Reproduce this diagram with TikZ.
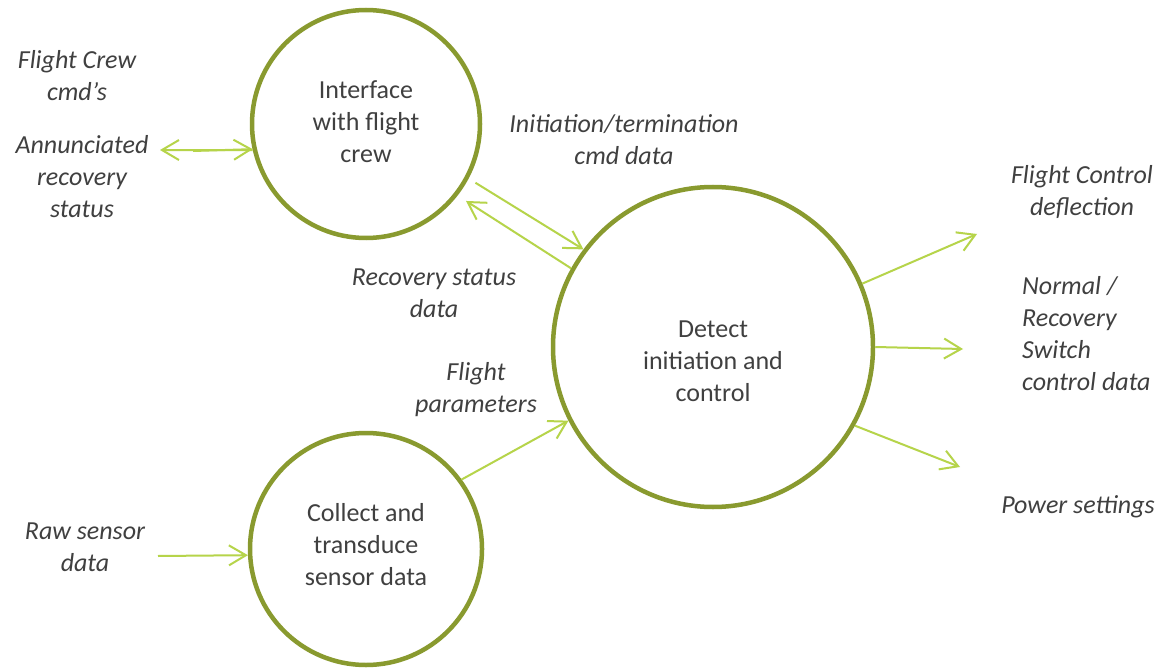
\documentclass[tikz,border=0pt]{standalone}
\usepackage{fontspec}
\setmainfont{Carlito}
\usetikzlibrary{arrows.meta}
\definecolor{ring}{RGB}{137,154,47}
\definecolor{flow}{RGB}{182,212,74}
\definecolor{ink}{RGB}{64,64,64}

\begin{document}
\begin{tikzpicture}[x=1pt,y=-1pt,
  process/.style={circle, draw=ring, line width=4.5pt, inner sep=0pt},
  proctext/.style={text=ink, align=center, inner sep=0pt,
    font=\fontsize{26}{32}\selectfont},
  flowlabel/.style={text=ink, align=center, inner sep=0pt,
    font=\fontsize{26}{32}\selectfont\itshape},
  flowarrow/.style={draw=flow, line width=2pt,
    -{Straight Barb[length=17pt,width=20pt,line width=2pt]}}]

\useasboundingbox[fill=white] (0,0) rectangle (1164,668);

% processes
\node[process, minimum size=228pt,
  label={[proctext, yshift=2pt]center:{Interface\\with flight\\crew}}] (crew) at (366,124) {};
\node[process, minimum size=320pt,
  label={[proctext, yshift=-14pt]center:{Detect\\initiation and\\control}}] (detect) at (713,347) {};
\node[process, minimum size=232pt,
  label={[proctext, yshift=4pt]center:{Collect and\\transduce\\sensor data}}] (sense) at (366,549) {};

% data labels
\node[flowlabel] (cmds) at (77,76) {Flight Crew\\cmd's};
\node[flowlabel] (annun) at (82,177) {Annunciated\\recovery\\status};
\node[flowlabel] (initterm) at (624,140) {Initiation/termination\\cmd data};
\node[flowlabel] (recstat) at (434,293) {Recovery status\\data};
\node[flowlabel] (params) at (476,390) {Flight\\parameters};
\node[flowlabel] (raw) at (85,547) {Raw sensor\\data};
\node[flowlabel] (defl) at (1082,192) {Flight Control\\deflection};
\node[flowlabel, align=left, anchor=west] (switch) at (1022,334) {Normal /\\Recovery\\Switch\\control data};
\node[flowlabel] (power) at (1078,507) {Power settings};

% free ends of the external flows
\coordinate (annunEnd) at (160,150);
\coordinate (cmdStart) at (193,151);
\coordinate (rawStart) at (158,556);
\coordinate (deflEnd) at (977,234);
\coordinate (switchEnd) at (963,349);
\coordinate (powerEnd) at (960,467);

% flows
\draw[flowarrow] (crew.193) -- (annunEnd);
\draw[flowarrow] (cmdStart) -- ([yshift=1pt]crew.193);
\draw[flowarrow, shorten <=8pt] (crew.-28) -- (detect.143);
\draw[flowarrow, shorten >=10pt] (detect.151) -- (crew.-38);
\draw[flowarrow] (sense.36) -- (detect.-153);
\draw[flowarrow] (rawStart) -- (sense.183);
\draw[flowarrow] (detect.23) -- (deflEnd);
\draw[flowarrow] (detect.east) -- (switchEnd);
\draw[flowarrow] (detect.-29) -- (powerEnd);
\end{tikzpicture}
\end{document}
